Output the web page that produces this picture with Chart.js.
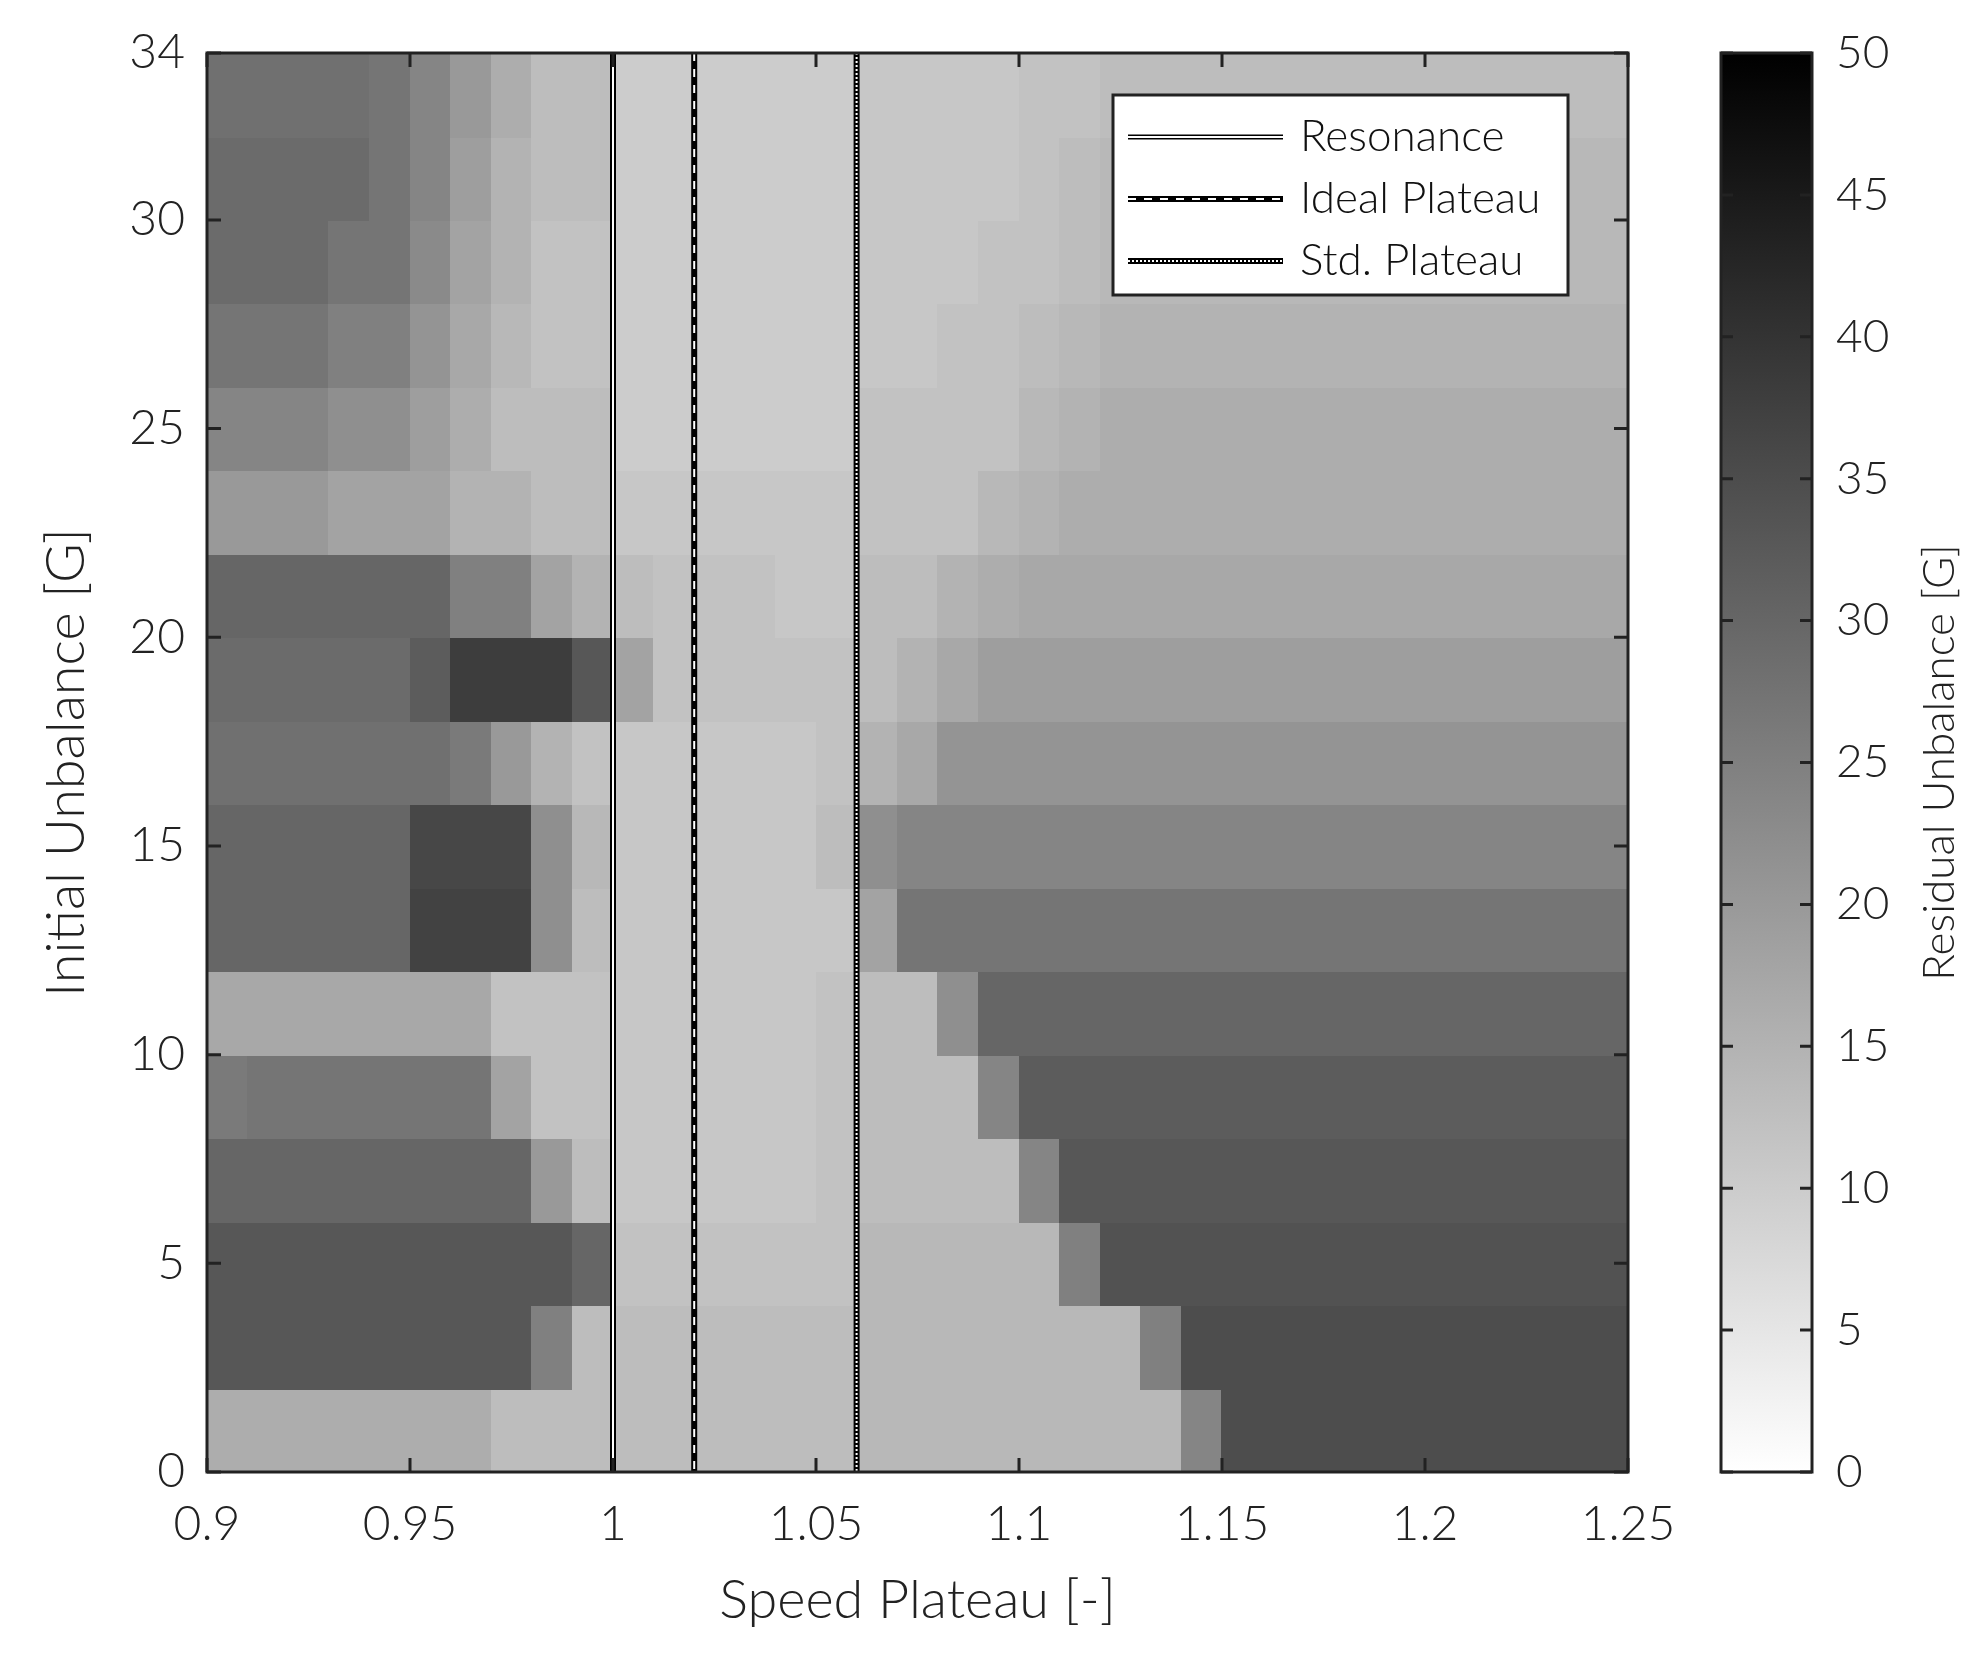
<!DOCTYPE html>
<html>
<head>
<meta charset="utf-8">
<script src="https://cdn.jsdelivr.net/npm/chart.js@4/dist/chart.umd.min.js"></script>
<style>
  body { margin: 0; background: #fff; }
  #main { position: absolute; left: 0; top: 0; }
  #bar { position: absolute; left: 1700px; top: 0; }
</style>
</head>
<body>
<canvas id="main" width="1700" height="1665"></canvas>
<canvas id="bar" width="285" height="1665"></canvas>
<script>
// cell edges: x from 0.9 step 0.01, y from 0 step 2
const xStart = 0.9, xStep = 0.01;
const yStart = 0, yStep = 2;
const xTicks = [0.9, 0.95, 1, 1.05, 1.1, 1.15, 1.2, 1.25];
const yTicks = [0, 5, 10, 15, 20, 25, 30, 34];
const cbTicks = [0, 5, 10, 15, 20, 25, 30, 35, 40, 45, 50];

// residual unbalance [G], rows bottom (y 0-2) to top (y 32-34), 35 columns each
const residual = [
  [16,16,16,16,16,16,16,13,13,13, 13,13,13,13,13,13, 14,14,14,14,14,14,14,14,24,35,35,35,35,35,35,35,35,35,35],
  [33,33,33,33,33,33,33,33,25,13, 13,13,13,13,13,13, 14,14,14,14,14,14,14,25,35,35,35,35,35,35,35,35,35,35,35],
  [33,33,33,33,33,33,33,33,33,30, 12,12,12,12,12,12, 14,14,14,14,14,25,34,34,34,34,34,34,34,34,34,34,34,34,34],
  [30,30,30,30,30,30,30,30,20,13, 11,11,11,11,11,12, 13,13,13,13,24,33,33,33,33,33,33,33,33,33,33,33,33,33,33],
  [26,27,27,27,27,27,27,18,12,12, 11,11,11,11,11,12, 13,13,13,24,32,32,32,32,32,32,32,32,32,32,32,32,32,32,32],
  [17,17,17,17,17,17,17,12,12,12, 11,11,11,11,11,12, 13,13,22,30,30,30,30,30,30,30,30,30,30,30,30,30,30,30,30],
  [30,30,30,30,30,37,37,37,22,13, 11,11,11,11,11,11, 18,27,27,27,27,27,27,27,27,27,27,27,27,27,27,27,27,27,27],
  [30,30,30,30,30,36,36,36,22,14, 11,11,11,11,11,13, 22,24,24,24,24,24,24,24,24,24,24,24,24,24,24,24,24,24,24],
  [28,28,28,28,28,28,26,20,15,12, 11,11,11,11,11,12, 15,17,21,21,21,21,21,21,21,21,21,21,21,21,21,21,21,21,21],
  [29,29,29,29,29,32,38,38,38,33, 18,12,12,12,12,12, 13,15,17,19,19,19,19,19,19,19,19,19,19,19,19,19,19,19,19],
  [30,30,30,30,30,30,25,25,18,15, 13,12,12,12,11,11, 13,13,15,16,17,17,17,17,17,17,17,17,17,17,17,17,17,17,17],
  [20,20,20,18,18,18,15,15,13,13, 11,11,11,11,11,11, 12,12,12,14,15,16,16,16,16,16,16,16,16,16,16,16,16,16,16],
  [24,24,24,22,22,19,16,13,13,13, 10,10,10,10,10,10, 12,12,12,12,14,15,16,16,16,16,16,16,16,16,16,16,16,16,16],
  [27,27,27,25,25,21,17,14,12,12, 10,10,10,10,10,10, 11,11,12,12,13,14,15,15,15,15,15,15,15,15,15,15,15,15,15],
  [29,29,29,27,27,23,18,15,12,12, 10,10,10,10,10,10, 11,11,11,12,12,13,14,14,14,14,14,14,14,14,14,14,14,14,14],
  [29,29,29,29,27,24,19,15,13,13, 10,10,10,10,10,10, 11,11,11,11,12,13,14,14,14,14,14,14,14,14,14,14,14,14,14],
  [28,28,28,28,27,24,20,16,13,13, 10,10,10,10,10,10, 11,11,11,11,12,12,13,13,13,13,13,13,13,13,13,13,13,13,13]
];

const markerNames = ["Resonance", "Ideal Plateau", "Std. Plateau"];
const markerSpeeds = [1.0, 1.02, 1.06];

const FONT = "Lato";
const INK = "#222";

function gray(v) {
  const g = Math.round(255 * (1 - Math.max(0, Math.min(50, v)) / 50));
  return "rgb(" + g + "," + g + "," + g + ")";
}

// white overlay pattern on a thick black line
function overlay(i) {
  if (i === 0) return { width: 2, dash: [] };
  if (i === 1) return { width: 2, dash: [8, 8] };
  return { width: 2, dash: [2, 2] };
}

const heatmap = {
  id: "heatmap",
  beforeDatasetsDraw(chart) {
    const ctx = chart.ctx, x = chart.scales.x, y = chart.scales.y;
    ctx.save();
    residual.forEach((row, r) => {
      row.forEach((v, c) => {
        const x0 = x.getPixelForValue(xStart + c * xStep);
        const x1 = x.getPixelForValue(xStart + (c + 1) * xStep);
        const y0 = y.getPixelForValue(yStart + r * yStep);
        const y1 = y.getPixelForValue(Math.min(34, yStart + (r + 1) * yStep));
        ctx.fillStyle = gray(v);
        ctx.fillRect(Math.floor(x0), Math.floor(y1), Math.ceil(x1 - x0) + 1, Math.ceil(y0 - y1) + 1);
      });
    });
    ctx.restore();
  },
  afterDatasetsDraw(chart) {
    const ctx = chart.ctx, a = chart.chartArea, x = chart.scales.x, y = chart.scales.y;
    ctx.save();
    markerSpeeds.forEach((s, i) => {
      const o = overlay(i);
      const px = x.getPixelForValue(s);
      ctx.strokeStyle = "#fff";
      ctx.lineWidth = o.width;
      ctx.setLineDash(o.dash);
      ctx.beginPath();
      ctx.moveTo(px, a.top);
      ctx.lineTo(px, a.bottom);
      ctx.stroke();
    });
    ctx.setLineDash([]);
    // box and inward ticks
    ctx.strokeStyle = INK;
    ctx.lineWidth = 3;
    ctx.strokeRect(a.left, a.top, a.right - a.left, a.bottom - a.top);
    ctx.beginPath();
    xTicks.forEach(t => {
      const px = x.getPixelForValue(t);
      ctx.moveTo(px, a.bottom); ctx.lineTo(px, a.bottom - 14);
      ctx.moveTo(px, a.top); ctx.lineTo(px, a.top + 14);
    });
    yTicks.forEach(t => {
      const py = y.getPixelForValue(t);
      ctx.moveTo(a.left, py); ctx.lineTo(a.left + 14, py);
      ctx.moveTo(a.right, py); ctx.lineTo(a.right - 14, py);
    });
    ctx.stroke();
    // legend
    const bx = 1113, by = 95, bw = 455, bh = 200;
    ctx.fillStyle = "#fff";
    ctx.fillRect(bx, by, bw, bh);
    ctx.lineWidth = 3;
    ctx.strokeRect(bx, by, bw, bh);
    ctx.font = "300 44px " + FONT;
    ctx.textBaseline = "middle";
    markerNames.forEach((name, i) => {
      const ly = 137 + i * 62;
      ctx.strokeStyle = "#000";
      ctx.lineWidth = i === 0 ? 5 : 6;
      ctx.beginPath(); ctx.moveTo(1128, ly); ctx.lineTo(1283, ly); ctx.stroke();
      const o = overlay(i);
      ctx.strokeStyle = "#fff";
      ctx.lineWidth = o.width;
      ctx.setLineDash(o.dash);
      ctx.beginPath(); ctx.moveTo(1128, ly); ctx.lineTo(1283, ly); ctx.stroke();
      ctx.setLineDash([]);
      ctx.fillStyle = "#111";
      ctx.fillText(name, 1300, ly);
    });
    ctx.restore();
  }
};

new Chart(document.getElementById("main"), {
  type: "scatter",
  data: {
    datasets: markerSpeeds.map((s, i) => ({
      label: markerNames[i],
      data: [{ x: s, y: 0 }, { x: s, y: 34 }],
      showLine: true,
      borderColor: "#000",
      borderWidth: 6,
      pointRadius: 0
    }))
  },
  options: {
    responsive: false,
    animation: false,
    devicePixelRatio: 1,
    layout: { padding: { top: 53, right: 72, left: 0, bottom: 0 } },
    plugins: { legend: { display: false }, tooltip: { enabled: false } },
    scales: {
      x: {
        type: "linear", min: 0.9, max: 1.25,
        afterBuildTicks: s => { s.ticks = xTicks.map(v => ({ value: v })); },
        afterFit: s => { s.height = 1665 - 1472; },
        ticks: { font: { family: FONT, size: 48, weight: 300 }, color: "#222", padding: 16, maxRotation: 0,
                 callback: v => String(+v.toFixed(2)) },
        grid: { display: false },
        border: { display: false },
        title: { display: true, text: "Speed Plateau [-]", font: { family: FONT, size: 54, weight: 300 }, color: "#222", padding: { top: 0, bottom: 32 } }
      },
      y: {
        type: "linear", min: 0, max: 34,
        afterBuildTicks: s => { s.ticks = yTicks.map(v => ({ value: v })); },
        afterFit: s => { s.width = 207; },
        ticks: { font: { family: FONT, size: 48, weight: 300 }, color: "#222", padding: 14 },
        grid: { display: false },
        border: { display: false },
        title: { display: true, text: "Initial Unbalance [G]", font: { family: FONT, size: 54, weight: 300 }, color: "#222", padding: { top: 34, bottom: 0 } }
      }
    }
  },
  plugins: [heatmap]
});

const colorbar = {
  id: "colorbar",
  beforeDatasetsDraw(chart) {
    const ctx = chart.ctx, a = chart.chartArea, y = chart.scales.y;
    const g = ctx.createLinearGradient(0, y.getPixelForValue(0), 0, y.getPixelForValue(50));
    g.addColorStop(0, gray(0));
    g.addColorStop(1, gray(50));
    ctx.save();
    ctx.fillStyle = g;
    ctx.fillRect(a.left, a.top, a.right - a.left, a.bottom - a.top);
    ctx.strokeStyle = INK;
    ctx.lineWidth = 3;
    ctx.strokeRect(a.left, a.top, a.right - a.left, a.bottom - a.top);
    ctx.beginPath();
    cbTicks.forEach(t => {
      const py = y.getPixelForValue(t);
      ctx.moveTo(a.left, py); ctx.lineTo(a.left + 12, py);
      ctx.moveTo(a.right, py); ctx.lineTo(a.right - 12, py);
    });
    ctx.stroke();
    // title reads bottom to top
    ctx.translate(240, (a.top + a.bottom) / 2);
    ctx.rotate(-Math.PI / 2);
    ctx.font = "300 44px " + FONT;
    ctx.fillStyle = "#222";
    ctx.textAlign = "center";
    ctx.textBaseline = "middle";
    ctx.fillText("Residual Unbalance [G]", 0, 0);
    ctx.restore();
  }
};

new Chart(document.getElementById("bar"), {
  type: "scatter",
  data: { datasets: [{ data: [] }] },
  options: {
    responsive: false,
    animation: false,
    devicePixelRatio: 1,
    layout: { padding: { top: 53, left: 21, bottom: 193, right: 0 } },
    plugins: { legend: { display: false }, tooltip: { enabled: false } },
    scales: {
      x: { type: "linear", min: 0, max: 1, display: false },
      y: {
        type: "linear", min: 0, max: 50, position: "right",
        afterBuildTicks: s => { s.ticks = cbTicks.map(v => ({ value: v })); },
        afterFit: s => { s.width = 173; },
        ticks: { font: { family: FONT, size: 46, weight: 300 }, color: "#222", padding: 16 },
        grid: { display: false },
        border: { display: false }
      }
    }
  },
  plugins: [colorbar]
});
</script>
</body>
</html>
